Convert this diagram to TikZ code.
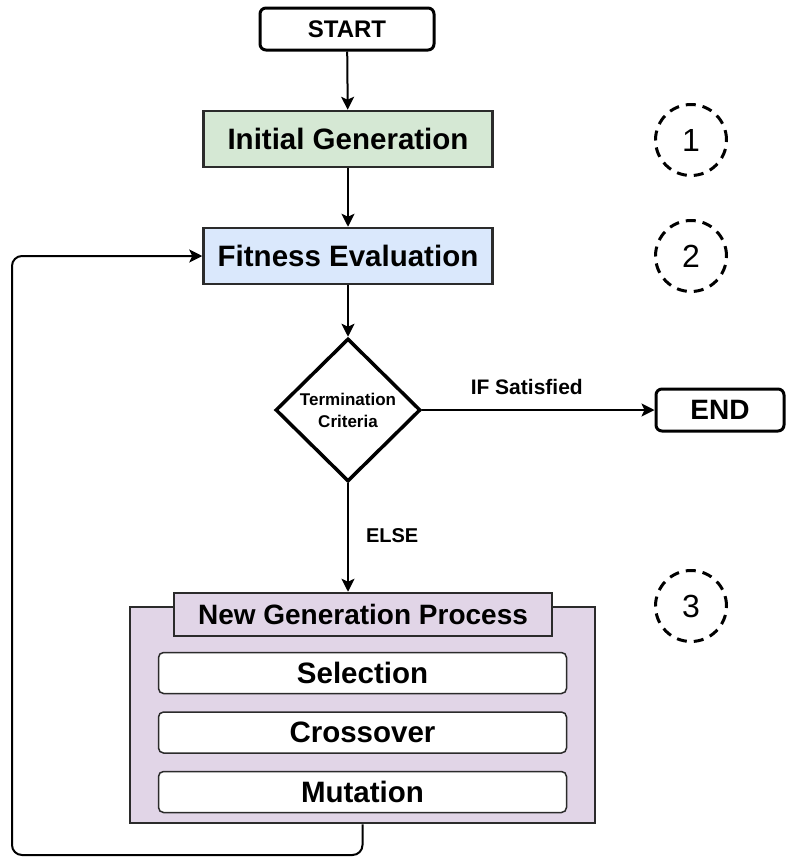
\documentclass[tikz,border=0pt]{standalone}
\usepackage{fontspec}
\setmainfont{Liberation Sans}
\usetikzlibrary{arrows.meta, positioning, shapes.geometric, calc}

\definecolor{genGreen}{HTML}{D5E8D4}
\definecolor{evalBlue}{HTML}{DAE8FC}
\definecolor{procPurple}{HTML}{E1D5E7}
\definecolor{edgeGray}{HTML}{2B2B2B}

\begin{document}
\begin{tikzpicture}[
		x=1pt, y=-1pt,
		every node/.style={inner sep=0pt, font=\bfseries},
		terminal/.style={draw, rounded corners=6pt, line width=3pt, fill=white},
		process/.style={draw=edgeGray, line width=2.5pt, minimum width=289pt, minimum height=56pt, font=\fontsize{29.5}{32}\selectfont\bfseries},
		decision/.style={draw, diamond, aspect=1, line width=3.5pt, minimum width=145pt, minimum height=143pt, align=center, font=\fontsize{17}{22}\selectfont\bfseries},
		subtask/.style={draw=edgeGray, line width=1.5pt, rounded corners=5pt, fill=white, minimum width=408pt, minimum height=41pt, font=\fontsize{29.5}{32}\selectfont\bfseries},
		marker/.style={draw, circle, dash pattern=on 10pt off 7pt, line width=3pt, minimum size=71pt, font=\fontsize{32}{36}\selectfont\mdseries},
		flow/.style={-{Stealth[length=13pt, width=13pt, inset=3pt]}, line width=2pt, black}
		]
		\useasboundingbox (0,0) rectangle (793,857);
		
		% Main column
		\node[terminal, minimum width=174pt, minimum height=42pt, font=\fontsize{24}{26}\selectfont\bfseries] (start) at (347,29) {START};
		\node[process, fill=genGreen] (initgen) at (348,139) {Initial Generation};
		\node[process, fill=evalBlue] (fiteval) at (348,256) {Fitness Evaluation};
		\node[decision] (term) at (348,410) {Termination\\Criteria};
		\node[terminal, minimum width=128pt, minimum height=42pt, font=\fontsize{28}{32}\selectfont\bfseries] (finish) at (720,410) {END};
		
		% New generation block
		\node[draw=edgeGray, line width=2.5pt, fill=procPurple, minimum width=465pt, minimum height=216pt] (ngp) at (362.5,715) {};
		\node[draw=edgeGray, line width=2.5pt, fill=procPurple, minimum width=378pt, minimum height=43pt, font=\fontsize{28}{30}\selectfont\bfseries] (ngphead) at (363,614.5) {New Generation Process};
		\node[subtask] (sel) at (362.5,673) {Selection};
		\node[subtask, below=17pt of sel] (cross) {Crossover};
		\node[subtask, below=17pt of cross] (mut) {Mutation};
		
		% Stage markers
		\node[marker] (mark1) at (691,140) {1};
		\node[marker] (mark2) at (691,256) {2};
		\node[marker] (mark3) at (691,606) {3};
		
		% Arrows
		\draw[flow] (start) -- (initgen);
		\draw[flow] (initgen) -- (fiteval);
		\draw[flow] (fiteval) -- (term);
		\draw[flow] (term.east) -- node[pos=0.45, above=14pt, font=\fontsize{21}{24}\selectfont\bfseries] {IF Satisfied} (finish.west);
		\draw[flow] (term.south) -- node[pos=0.48, right=17pt, font=\fontsize{20}{22}\selectfont\bfseries] {ELSE} (term.south |- ngphead.north);
		
		% Loop back to the evaluation
		\coordinate (loopback) at (12,855);
		\draw[flow, rounded corners=10pt] (ngp.south) |- (loopback) |- (fiteval.west);
	\end{tikzpicture}
\end{document}
